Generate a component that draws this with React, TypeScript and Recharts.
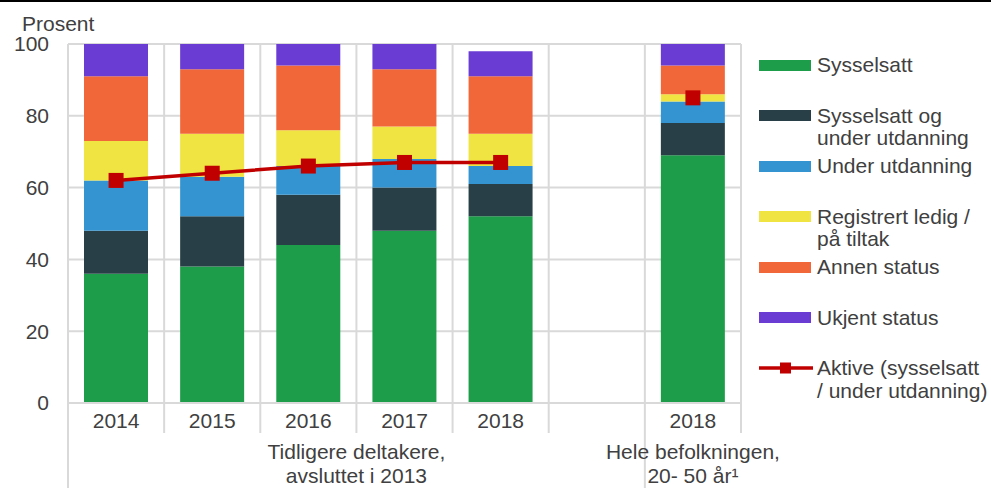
import {
  ComposedChart, Bar, Line, XAxis, YAxis, CartesianGrid,
} from 'recharts'

// kategorier (tom kategori = mellomrom mellom gruppene)
const categories = ['2014', '2015', '2016', '2017', '2018', '', '2018']

const sysselsatt      = [36, 38, 44, 48, 52, null, 69]
const sysselsattUtd   = [12, 14, 14, 12, 9, null, 9]
const underUtdanning  = [14, 11, 8, 8, 5, null, 6]
const registrertLedig = [11, 12, 10, 9, 9, null, 2]
const annenStatus     = [18, 18, 18, 16, 16, null, 8]
const ukjentStatus    = [9, 7, 6, 7, 7, null, 6]
const aktive          = [62, 64, 66, 67, 67, null, 85]

const yTicks = [0, 20, 40, 60, 80, 100]

const groups = [
  { from: 0, to: 5, lines: ['Tidligere deltakere,', 'avsluttet i 2013'] },
  { from: 6, to: 6, lines: ['Hele befolkningen,', '20- 50 år¹'] },
]

const series = [
  { key: 'sysselsatt', name: 'Sysselsatt', color: '#1d9d4a' },
  { key: 'sysselsattUtd', name: 'Sysselsatt og\nunder utdanning', color: '#283f47' },
  { key: 'underUtdanning', name: 'Under utdanning', color: '#3494d1' },
  { key: 'registrertLedig', name: 'Registrert ledig /\npå tiltak', color: '#efe441' },
  { key: 'annenStatus', name: 'Annen status', color: '#f2673a' },
  { key: 'ukjentStatus', name: 'Ukjent status', color: '#6a3cd4' },
]
const lineName = 'Aktive (sysselsatt\n/ under utdanning)'

const data = categories.map((c, i) => ({
  label: c,
  sysselsatt: sysselsatt[i],
  sysselsattUtd: sysselsattUtd[i],
  underUtdanning: underUtdanning[i],
  registrertLedig: registrertLedig[i],
  annenStatus: annenStatus[i],
  ukjentStatus: ukjentStatus[i],
  aktive: aktive[i],
}))

const GRID = '#d9d9d9'
const TEXT = '#404040'
const FONT = 21
const LINE_RED = '#c00000'

function CategoryTick(props: any) {
  const { x, y, payload, index } = props
  const half = payload?.offset ?? 48
  const left = x - half
  const group = groups.find((g) => g.from === index)
  const last = index === categories.length - 1
  return (
    <g>
      <line x1={left} x2={left} y1={y} y2={group ? y + 90 : y + 30} stroke={GRID} strokeWidth={2} />
      {last && <line x1={x + half} x2={x + half} y1={y} y2={y + 30} stroke={GRID} strokeWidth={2} />}
      <text x={x} y={y + 25} textAnchor="middle" fill={TEXT} fontSize={FONT}>{categories[index]}</text>
      {group && group.lines.map((ln, i) => (
        <text
          key={i}
          x={left + (group.to - group.from + 1) * half}
          y={y + 56 + i * 24}
          textAnchor="middle"
          fill={TEXT}
          fontSize={FONT}
        >
          {ln}
        </text>
      ))}
    </g>
  )
}

function SquareDot(props: any) {
  const { cx, cy, value, index } = props
  if (value == null || cx == null) return <g key={index} />
  return <rect key={index} x={cx - 7.5} y={cy - 7.5} width={15} height={15} fill={LINE_RED} />
}

function LegendBox() {
  const items = [
    ...series.map((s) => ({ name: s.name, color: s.color, line: false })),
    { name: lineName, color: LINE_RED, line: true },
  ]
  return (
    <div style={{ position: 'absolute', left: 759, top: 54, width: 232, fontSize: FONT, color: TEXT, lineHeight: '22.5px' }}>
      {items.map((p, i) => (
        <div key={i} style={{ display: 'flex', alignItems: 'flex-start', height: 50.5 }}>
          {p.line ? (
            <svg width={54} height={22} style={{ flex: 'none' }}>
              <line x1={0} x2={54} y1={11} y2={11} stroke={p.color} strokeWidth={3.5} />
              <rect x={21} y={5.5} width={11} height={11} fill={p.color} />
            </svg>
          ) : (
            <div style={{ width: 52, height: 11, marginTop: 5.75, background: p.color, flex: 'none' }} />
          )}
          <div style={{ marginLeft: p.line ? 4 : 6, whiteSpace: 'pre-line' }}>{p.name}</div>
        </div>
      ))}
    </div>
  )
}

export default function App() {
  return (
    <div style={{ position: 'fixed', left: 0, top: 0, width: 991, height: 488, background: '#fff', fontFamily: '"Liberation Sans", Arial, sans-serif' }}>
      <div style={{ position: 'absolute', left: 0, top: 0, width: 991, height: 2, background: '#000', zIndex: 2 }} />
      <ComposedChart
        width={991}
        height={488}
        data={data}
        margin={{ top: 44, right: 250, left: 0, bottom: 0 }}
        barCategoryGap={16}
      >
        <CartesianGrid
          stroke={GRID}
          strokeWidth={2}
          verticalCoordinatesGenerator={({ offset }: any) =>
            categories.map((_, i) => offset.left + (i * offset.width) / categories.length).concat(offset.left + offset.width)
          }
        />
        <XAxis
          dataKey="label"
          height={85}
          tickLine={false}
          tickSize={0}
          tickMargin={0}
          interval={0}
          axisLine={{ stroke: GRID, strokeWidth: 2 }}
          tick={<CategoryTick />}
        />
        <YAxis
          domain={[0, 100]}
          ticks={yTicks}
          width={68}
          tickLine={false}
          tickSize={10}
          tickMargin={9}
          axisLine={{ stroke: GRID, strokeWidth: 2 }}
          tick={{ fill: TEXT, fontSize: FONT }}
          label={(p: any) => (
            <text x={(p.viewBox?.x ?? 0) + 22} y={(p.viewBox?.y ?? 44) - 13} fill={TEXT} fontSize={FONT}>Prosent</text>
          )}
        />
        {series.map((s) => (
          <Bar
            key={s.key}
            dataKey={s.key}
            name={s.name}
            stackId="a"
            fill={s.color}
            isAnimationActive={false}
          />
        ))}
        <Line
          dataKey="aktive"
          name={lineName}
          stroke={LINE_RED}
          strokeWidth={3.5}
          dot={SquareDot}
          activeDot={false}
          isAnimationActive={false}
        />
      </ComposedChart>
      <LegendBox />
    </div>
  )
}
